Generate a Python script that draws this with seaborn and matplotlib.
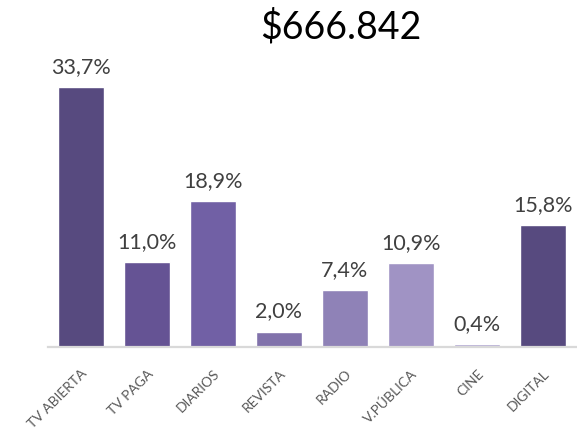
import matplotlib
matplotlib.use("Agg")
import matplotlib.pyplot as plt
import seaborn as sns
import pandas as pd

categories = ["TV ABIERTA", "TV PAGA", "DIARIOS", "REVISTA", "RADIO", "V.PÚBLICA", "CINE", "DIGITAL"]
values = [33.7, 11.0, 18.9, 2.0, 7.4, 10.9, 0.4, 15.8]
labels = ["33,7%", "11,0%", "18,9%", "2,0%", "7,4%", "10,9%", "0,4%", "15,8%"]
colors = ["#574a7f", "#655394", "#7160a5", "#8172ab", "#8f82b7", "#a093c4", "#b0a6d0", "#574a7f"]
title = "$666.842"

sns.set_style("white")
plt.rcParams["font.family"] = ["Lato", "DejaVu Sans"]

df = pd.DataFrame({"cat": categories, "val": values})

fig = plt.figure(figsize=(5.77, 4.35), dpi=100)
ax = fig.add_axes([48/577, 0.2, (576-48)/577, 0.71])
sns.barplot(data=df, x="cat", y="val", hue="cat", palette=colors, legend=False,
            width=0.7, ax=ax, saturation=1)
ax.set_xlim(-0.5, 7.5)
ax.set_ylim(0, 40)
ax.set_xlabel("")
ax.set_ylabel("")
ax.set_yticks([])
for s in ["top", "right", "left"]:
    ax.spines[s].set_visible(False)
ax.spines["bottom"].set_color("#d9d9d9")
ax.spines["bottom"].set_linewidth(1.6)
ax.tick_params(axis="x", length=0, pad=14, labelsize=10, labelcolor="#595959")
for t in ax.get_xticklabels():
    t.set_rotation(45)
    t.set_ha("right")
    t.set_rotation_mode("anchor")

for i, (v, lab) in enumerate(zip(values, labels)):
    ax.annotate(lab, (i, v), xytext=(0, 8), textcoords="offset points",
                ha="center", va="bottom", fontsize=15.5, color="#404040")

fig.text(341/577, 1 - 27/435, title, ha="center", va="center", fontsize=27, color="#000000")

fig.savefig("out.png", dpi=100)
